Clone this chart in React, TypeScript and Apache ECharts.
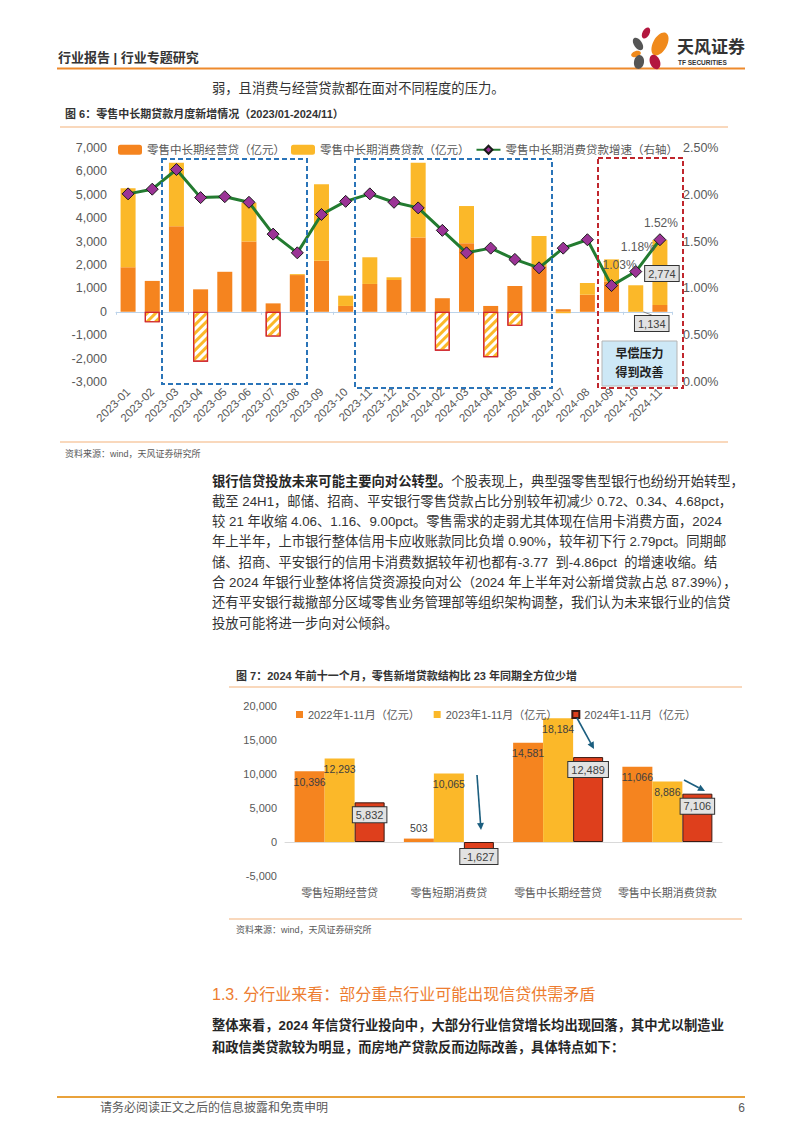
import React, { useEffect, useRef } from 'react';
import * as echarts from 'echarts';

// ---------- Chart 1 data ----------
const months = ['2023-01', '2023-02', '2023-03', '2023-04', '2023-05', '2023-06', '2023-07', '2023-08', '2023-09', '2023-10', '2023-11', '2023-12', '2024-01', '2024-02', '2024-03', '2024-04', '2024-05', '2024-06', '2024-07', '2024-08', '2024-09', '2024-10', '2024-11'];
const bizLoans = [1900, 1320, 3660, 960, 1710, 3000, 360, 1570, 2180, 250, 1190, 1360, 3170, 580, 2930, 250, 1100, 1950, 110, 730, 1300, 0, 290];
const consLoans = [3380, -450, 2710, -2130, 0, 1660, -1060, 40, 3270, 440, 1140, 115, 3200, -1660, 1590, -1940, -600, 1290, -60, 500, 940, 1134, 2774];
const consGrowth = [2.01, 2.06, 2.27, 1.97, 1.98, 1.92, 1.58, 1.38, 1.79, 1.93, 2.01, 1.92, 1.86, 1.62, 1.38, 1.43, 1.31, 1.22, 1.43, 1.52, 1.03, 1.18, 1.52];
const calloutMonths = ['2024-10', '2024-11'];
const growthLabelMonths = ['2024-09', '2024-10', '2024-11'];
const seriesNames1 = ['零售中长期经营贷（亿元）', '零售中长期消费贷款（亿元）', '零售中长期消费贷款增速（右轴）'];

// ---------- Chart 2 data ----------
const structCats = ['零售短期经营贷', '零售短期消费贷', '零售中长期经营贷', '零售中长期消费贷款'];
const y2022 = [10396, 503, 14581, 11066];
const y2023 = [12293, 10065, 18184, 8886];
const y2024 = [5832, -1627, 12489, 7106];
const seriesNames2 = ['2022年1-11月（亿元）', '2023年1-11月（亿元）', '2024年1-11月（亿元）'];

// ---------- Text ----------
const para1Bold = '银行信贷投放未来可能主要向对公转型。';
const para1Lines = [
  '个股表现上，典型强零售型银行也纷纷开始转型，',
  '截至 24H1，邮储、招商、平安银行零售贷款占比分别较年初减少 0.72、0.34、4.68pct，',
  '较 21 年收缩 4.06、1.16、9.00pct。零售需求的走弱尤其体现在信用卡消费方面，2024',
  '年上半年，上市银行整体信用卡应收账款同比负增 0.90%，较年初下行 2.79pct。同期邮',
  '储、招商、平安银行的信用卡消费数据较年初也都有-3.77  到-4.86pct  的增速收缩。结',
  '合 2024 年银行业整体将信贷资源投向对公（2024 年上半年对公新增贷款占总 87.39%），',
  '还有平安银行裁撤部分区域零售业务管理部等组织架构调整，我们认为未来银行业的信贷',
  '投放可能将进一步向对公倾斜。',
];
const para2Lines = [
  '整体来看，2024 年信贷行业投向中，大部分行业信贷增长均出现回落，其中尤以制造业',
  '和政信类贷款较为明显，而房地产贷款反而边际改善，具体特点如下：',
];

const ORANGE = '#F5841F';
const YELLOW = '#FBB829';
const RED = '#DE3F1C';
const GREEN = '#237B30';
const PURPLE = '#9B3496';
const AXIS_TXT = '#595959';
const FONT = '"Liberation Sans", Arial, "Noto Sans CJK SC", sans-serif';

const fmt = (v: number) => Number(v).toLocaleString('en-US');

function txt(x: number, y: number, text: string, size: number, o: any = {}) {
  const align = o.align || 'left';
  return {
    type: 'text',
    x,
    y,
    silent: true,
    z: 100,
    style: {
      text,
      fontSize: size,
      fontFamily: FONT,
      fontWeight: o.bold ? 'bold' : 'normal',
      fill: o.fill || '#333333',
      align,
      textAlign: align,
      verticalAlign: 'middle',
      textVerticalAlign: 'middle',
      lineHeight: o.lineHeight,
      rich: o.rich,
    },
  };
}

function hline(x1: number, x2: number, y: number, color: string, w = 1) {
  return { type: 'line', silent: true, shape: { x1, y1: y, x2, y2: y }, style: { stroke: color, lineWidth: w } };
}

function dashedBox(x: number, y: number, w: number, h: number, color: string) {
  return {
    type: 'rect',
    silent: true,
    z: 50,
    shape: { x, y, width: w, height: h },
    style: { fill: 'none', stroke: color, lineWidth: 2, lineDash: [5, 3] },
  };
}

function arrow(x1: number, y1: number, x2: number, y2: number, color: string) {
  const ang = Math.atan2(y2 - y1, x2 - x1);
  const L = 7;
  const Wd = 3.5;
  const bx = x2 - L * Math.cos(ang);
  const by = y2 - L * Math.sin(ang);
  const px = -Math.sin(ang) * Wd;
  const py = Math.cos(ang) * Wd;
  return [
    { type: 'line', silent: true, z: 60, shape: { x1, y1, x2: bx, y2: by }, style: { stroke: color, lineWidth: 1.6 } },
    { type: 'polygon', silent: true, z: 60, shape: { points: [[x2, y2], [bx + px, by + py], [bx - px, by - py]] }, style: { fill: color } },
  ];
}

function ell(x: number, y: number, rx: number, ry: number, rot: number, color: string) {
  return { type: 'ellipse', silent: true, x, y, rotation: rot, shape: { cx: 0, cy: 0, rx, ry }, style: { fill: color } };
}

function buildOption(): any {
  const hatch = {
    color: '#ffffff',
    borderColor: '#D0262D',
    borderWidth: 1.2,
    decal: { symbol: 'rect', color: YELLOW, dashArrayX: [1, 0], dashArrayY: [3, 3], rotation: -Math.PI / 4, symbolSize: 1 },
  };
  const boxLabel = {
    show: true,
    formatter: (p: any) => fmt(p.value),
    backgroundColor: '#E2E2E2',
    borderColor: '#333333',
    borderWidth: 1,
    padding: [2, 3],
    fontSize: 11,
    color: '#404040',
    fontFamily: FONT,
  };

  const consData = consLoans.map((v, i) => {
    const item: any = { value: v };
    if (v < -200) item.itemStyle = hatch;
    if (calloutMonths.includes(months[i])) item.label = { ...boxLabel, position: 'inside' };
    return item;
  });

  const growthOffsets: Record<string, number[]> = { '2024-09': [8, -3], '2024-10': [2, -7], '2024-11': [1, 1] };
  const growthData = consGrowth.map((v, i) => {
    const item: any = { value: v };
    if (growthLabelMonths.includes(months[i])) {
      item.label = {
        show: true,
        position: 'top',
        offset: growthOffsets[months[i]],
        formatter: (p: any) => Number(p.value).toFixed(2) + '%',
        fontSize: 12,
        color: AXIS_TXT,
        fontFamily: FONT,
      };
    }
    return item;
  });

  const simpleLabel = {
    show: true,
    formatter: (p: any) => fmt(p.value),
    fontSize: 10.5,
    color: '#404040',
    fontFamily: FONT,
    distance: 5,
  };

  const graphic: any[] = [
    // header
    txt(58, 57, '行业报告 | 行业专题研究', 13, { bold: true, fill: '#333333' }),
    hline(57, 745, 68.5, '#EE8A2C', 2),
    // logo
    ell(646, 33, 3.5, 6, -0.5, '#B3173F'),
    ell(660, 44, 7, 12.5, -0.5, '#F08A1C'),
    ell(638, 44, 4, 7, 0.6, '#555555'),
    ell(636, 54, 5, 3, 0.3, '#F08A1C'),
    ell(639, 62, 5, 7, -0.2, '#555555'),
    ell(655, 62, 5, 7.5, 0.4, '#B3173F'),
    txt(677, 47, '天风证券', 17, { bold: true, fill: '#333333' }),
    txt(678, 62.5, 'TF SECURITIES', 6.5, { bold: true, fill: '#333333' }),
    // lead line
    txt(212, 88, '弱，且消费与经营贷款都在面对不同程度的压力。', 13.3, { fill: '#333333' }),
    // chart 1 frame
    txt(65, 114, '图 6：零售中长期贷款月度新增情况（2023/01-2024/11）', 11, { bold: true, fill: '#333333' }),
    hline(60, 728, 127, '#F4B27A', 1.2),
    hline(60, 728, 442, '#F4B27A', 1.2),
    txt(65, 454, '资料来源：wind，天风证券研究所', 9, { fill: '#595959' }),
    dashedBox(162, 159, 145, 225, '#2A74B8'),
    dashedBox(355, 159, 197, 229, '#2A74B8'),
    dashedBox(598, 158, 85, 230, '#C0262D'),
    {
      type: 'rect', silent: true, z: 55,
      shape: { x: 602, y: 341, width: 75, height: 45 },
      style: { fill: '#CDE8F6', stroke: '#B5B5B5', lineWidth: 1 },
    },
    txt(639.5, 363.5, '早偿压力\n得到改善', 12, { bold: true, fill: '#222222', align: 'center', lineHeight: 19 }),
    // paragraph 1
    txt(212, 481, `{b|${para1Bold}}{n|${para1Lines[0]}}`, 13.3, {
      rich: {
        b: { fontWeight: 'bold', fontSize: 13.3, fontFamily: FONT, fill: '#262626' },
        n: { fontWeight: 'normal', fontSize: 13.3, fontFamily: FONT, fill: '#333333' },
      },
    }),
    ...para1Lines.slice(1).map((l, i) => txt(212, 481 + (i + 1) * 20.3, l, 13.3, { fill: '#333333' })),
    // chart 2 frame
    txt(236, 676, '图 7：2024 年前十一个月，零售新增贷款结构比 23 年同期全方位少增', 11, { bold: true, fill: '#333333' }),
    hline(229, 742, 687, '#F4B27A', 1.2),
    hline(229, 742, 919, '#F4B27A', 1.2),
    txt(236, 930, '资料来源：wind，天风证券研究所', 9, { fill: '#595959' }),
    ...arrow(577, 718, 594, 749, '#1B5E7F'),
    ...arrow(684, 780, 705, 791, '#1B5E7F'),
    ...arrow(477, 775, 481, 830, '#1B5E7F'),
    // section
    txt(212, 994, '1.3. 分行业来看：部分重点行业可能出现信贷供需矛盾', 16, { fill: '#ED7D31' }),
    ...para2Lines.map((l, i) => txt(212, 1025 + i * 22, l, 13.3, { bold: true, fill: '#262626' })),
    // footer
    hline(57, 745, 1097, '#E9A23B', 2),
    txt(100, 1108, '请务必阅读正文之后的信息披露和免责申明', 12, { fill: '#595959' }),
    txt(745, 1108, '6', 12, { fill: '#595959', align: 'right' }),
  ];

  return {
    animation: false,
    backgroundColor: '#ffffff',
    textStyle: { fontFamily: FONT },
    grid: [
      { left: 116, top: 148, width: 556, height: 234, containLabel: false },
      { left: 285, top: 706, width: 437, height: 170, containLabel: false },
    ],
    legend: [
      {
        data: seriesNames1,
        left: 113,
        top: 139,
        itemWidth: 24,
        itemHeight: 10,
        itemGap: 6,
        textStyle: { color: AXIS_TXT, fontSize: 11.5, fontFamily: FONT },
      },
      {
        data: seriesNames2,
        left: 291,
        top: 704,
        icon: 'rect',
        itemWidth: 7,
        itemHeight: 7,
        itemGap: 14,
        textStyle: { color: AXIS_TXT, fontSize: 11, fontFamily: FONT },
      },
    ],
    xAxis: [
      {
        type: 'category', gridIndex: 0, data: months,
        axisLine: { show: false, onZero: false }, axisTick: { show: false },
        axisLabel: { rotate: 45, margin: 8, fontSize: 11.5, color: AXIS_TXT, interval: 0, fontFamily: FONT },
      },
      {
        type: 'category', gridIndex: 0, data: months, position: 'bottom',
        axisLine: { show: true, onZero: true, onZeroAxisIndex: 0, lineStyle: { color: '#BCD3EA', width: 1 } },
        axisTick: { show: true, length: 3, lineStyle: { color: '#BCD3EA' } },
        axisLabel: { show: false },
      },
      {
        type: 'category', gridIndex: 1, data: structCats,
        axisLine: { show: false, onZero: false }, axisTick: { show: false },
        axisLabel: { margin: 11, fontSize: 11, color: AXIS_TXT, interval: 0, fontFamily: FONT },
      },
      {
        type: 'category', gridIndex: 1, data: structCats, position: 'bottom',
        axisLine: { show: true, onZero: true, onZeroAxisIndex: 2, lineStyle: { color: '#D9D9D9', width: 1 } },
        axisTick: { show: false },
        axisLabel: { show: false },
      },
    ],
    yAxis: [
      {
        type: 'value', gridIndex: 0, min: -3000, max: 7000, interval: 1000,
        axisLine: { show: false }, axisTick: { show: false }, splitLine: { show: false },
        axisLabel: { margin: 9, fontSize: 12.5, color: AXIS_TXT, formatter: (v: number) => fmt(v), fontFamily: FONT },
      },
      {
        type: 'value', gridIndex: 0, min: 0, max: 2.5, interval: 0.5, position: 'right',
        axisLine: { show: false }, axisTick: { show: false }, splitLine: { show: false },
        axisLabel: { margin: 11, fontSize: 12.5, color: AXIS_TXT, formatter: (v: number) => v.toFixed(2) + '%', fontFamily: FONT },
      },
      {
        type: 'value', gridIndex: 1, min: -5000, max: 20000, interval: 5000,
        axisLine: { show: false }, axisTick: { show: false }, splitLine: { show: false },
        axisLabel: { margin: 8, fontSize: 11, color: AXIS_TXT, formatter: (v: number) => fmt(v), fontFamily: FONT },
      },
    ],
    series: [
      {
        name: seriesNames1[0], type: 'bar', xAxisIndex: 0, yAxisIndex: 0, stack: 'loans',
        barWidth: 15, data: bizLoans, itemStyle: { color: ORANGE },
      },
      {
        name: seriesNames1[1], type: 'bar', xAxisIndex: 0, yAxisIndex: 0, stack: 'loans',
        barWidth: 15, data: consData, itemStyle: { color: YELLOW },
        labelLayout: (p: any) => (months[p.dataIndex] === '2024-10' ? { dx: 16, dy: 25 } : { dx: 2, dy: 1 }),
        labelLine: { show: true, lineStyle: { color: '#8C8C8C', width: 1 } },
      },
      {
        name: seriesNames1[2], type: 'line', xAxisIndex: 0, yAxisIndex: 1, data: growthData, z: 5,
        symbol: 'diamond', symbolSize: 12,
        lineStyle: { color: GREEN, width: 3 },
        itemStyle: { color: PURPLE, borderColor: '#1A1A1A', borderWidth: 1 },
      },
      {
        name: seriesNames2[0], type: 'bar', xAxisIndex: 2, yAxisIndex: 2, barWidth: 30, barGap: '0%',
        itemStyle: { color: ORANGE },
        label: simpleLabel,
        data: y2022.map((v) => ({ value: v, label: { position: v < 2000 ? 'top' : 'insideTop' } })),
      },
      {
        name: seriesNames2[1], type: 'bar', xAxisIndex: 2, yAxisIndex: 2, barWidth: 30, barGap: '0%',
        itemStyle: { color: YELLOW },
        label: { ...simpleLabel, position: 'insideTop' },
        data: y2023,
      },
      {
        name: seriesNames2[2], type: 'bar', xAxisIndex: 2, yAxisIndex: 2, barWidth: 30, barGap: '0%',
        itemStyle: { color: RED, borderColor: '#3D1A12', borderWidth: 1 },
        label: { ...boxLabel, fontSize: 11 },
        data: y2024.map((v) => ({
          value: v,
          label: { position: v < 0 ? 'bottom' : 'insideTop', distance: v < 0 ? -4 : 5 },
        })),
      },
    ],
    graphic,
  };
}

export default function App() {
  const ref = useRef<HTMLDivElement>(null);
  useEffect(() => {
    if (!ref.current) return;
    const chart = echarts.init(ref.current, null, { renderer: 'svg' });
    chart.setOption(buildOption());
    return () => chart.dispose();
  }, []);
  return (
    <div
      ref={ref}
      style={{ position: 'absolute', left: 0, top: 0, width: 802, height: 1133, background: '#ffffff' }}
    />
  );
}
